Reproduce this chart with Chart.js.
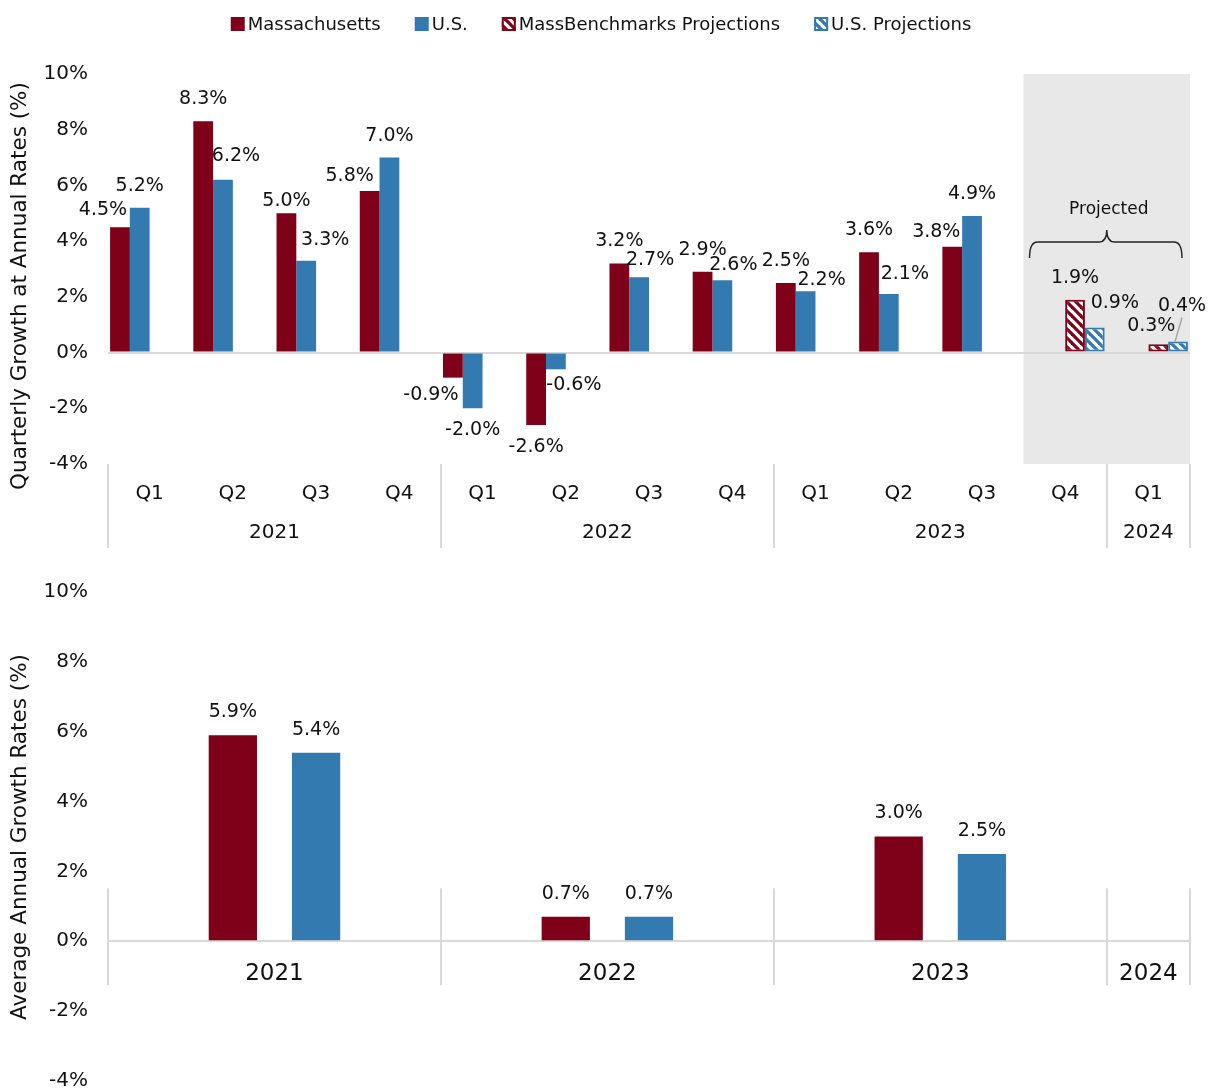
<!DOCTYPE html>
<html>
<head>
<meta charset="utf-8">
<script src="https://cdn.jsdelivr.net/npm/chart.js@4/dist/chart.umd.min.js"></script>
<style>
  body { margin: 0; background: #fff; }
  #wrap { position: relative; width: 1210px; height: 1091px; overflow: hidden; }
  canvas { position: absolute; left: 0; display: block; }
</style>
</head>
<body>
<div id="wrap">
  <canvas id="quarterChart" width="1210" height="560" style="top:0"></canvas>
  <canvas id="annualChart" width="1210" height="553" style="top:560px"></canvas>
</div>
<script>
// 資料
const quarters = ['Q1', 'Q2', 'Q3', 'Q4', 'Q1', 'Q2', 'Q3', 'Q4', 'Q1', 'Q2', 'Q3', 'Q4', 'Q1'];
const years = ['2021', '2022', '2023', '2024'];
const quartersPerYear = [4, 4, 4, 1];
const projectedFrom = 11;

const maQuarterly = [4.5, 8.3, 5.0, 5.8, -0.9, -2.6, 3.2, 2.9, 2.5, 3.6, 3.8, null, null];
const usQuarterly = [5.2, 6.2, 3.3, 7.0, -2.0, -0.6, 2.7, 2.6, 2.2, 2.1, 4.9, null, null];
const maProjected = [null, null, null, null, null, null, null, null, null, null, null, 1.9, 0.3];
const usProjected = [null, null, null, null, null, null, null, null, null, null, null, 0.9, 0.4];

const maAnnual = [5.9, 0.7, 3.0, null];
const usAnnual = [5.4, 0.7, 2.5, null];

const yTicksMin = -4;
const yTicksMax = 10;

// 樣式
const MA_COLOR = '#7F0019';
const US_COLOR = '#337AB0';
const TEXT = '#111111';
const LINE = '#d9d9d9';
const FONT = "'DejaVu Sans', sans-serif";

// 標籤微調 [dx, dy, 引線]
const maNudge = { 0: [-17, 5], 2: [0, 10], 3: [-20, 7], 4: [-22, -5], 10: [-16, 7] };
const usNudge = { 1: [13, -2], 2: [19, 1], 5: [18, -6], 6: [11, 5], 7: [11, 7], 8: [16, 11], 9: [16, 2] };
const maProjNudge = { 12: [-7, 4] };
const usProjNudge = { 11: [20, -2], 12: [4, -13, true] };

// 年度分組邊界
const groupBounds = [0];
quartersPerYear.forEach(n => groupBounds.push(groupBounds[groupBounds.length - 1] + n));

// 年度平均資料放在 Q2 / Q3 位置
const maAnnualSlots = quarters.map(() => null);
const usAnnualSlots = quarters.map(() => null);
years.forEach((y, i) => {
    if (maAnnual[i] !== null) maAnnualSlots[groupBounds[i] + 1] = maAnnual[i];
    if (usAnnual[i] !== null) usAnnualSlots[groupBounds[i] + 2] = usAnnual[i];
});

function makeHatch(ctx, color) {
    const size = 9;
    const c = document.createElement('canvas');
    c.width = size;
    c.height = size;
    const g = c.getContext('2d');
    g.fillStyle = '#fff';
    g.fillRect(0, 0, size, size);
    g.strokeStyle = color;
    g.lineWidth = 3.2;
    for (let k = -1; k <= 1; k++) {
        g.beginPath();
        g.moveTo(k * size - 1, -1);
        g.lineTo(k * size + size + 1, size + 1);
        g.stroke();
    }
    return ctx.createPattern(c, 'repeat');
}

function boundaryX(chart, idx) {
    const x = chart.scales.x;
    const w = x.width / quarters.length;
    return x.left + idx * w;
}

// 數值標籤
function labelPlugin(font, gap) {
    return {
        id: 'valueLabels',
        afterDatasetsDraw(chart) {
            const ctx = chart.ctx;
            ctx.save();
            ctx.font = font;
            ctx.fillStyle = TEXT;
            ctx.textAlign = 'center';
            ctx.textBaseline = 'middle';
            chart.data.datasets.forEach((ds, di) => {
                const meta = chart.getDatasetMeta(di);
                const nudges = ds.labelNudge || {};
                meta.data.forEach((bar, i) => {
                    const v = ds.data[i];
                    if (v === null || v === undefined) return;
                    const n = nudges[i] || [0, 0];
                    const x = bar.x + n[0];
                    const y = (v >= 0 ? bar.y - gap : bar.y + gap) + n[1];
                    ctx.fillText(v.toFixed(1) + '%', x, y);
                    if (n[2]) {
                        ctx.strokeStyle = '#a6a6a6';
                        ctx.lineWidth = 1.5;
                        ctx.beginPath();
                        ctx.moveTo(x, y + 11);
                        ctx.lineTo(bar.x - 3, bar.y);
                        ctx.stroke();
                    }
                });
            });
            ctx.restore();
        }
    };
}

function drawYTitle(ctx, text, x, y) {
    ctx.save();
    ctx.translate(x, y);
    ctx.rotate(-Math.PI / 2);
    ctx.font = '21.5px ' + FONT;
    ctx.fillStyle = TEXT;
    ctx.textAlign = 'center';
    ctx.textBaseline = 'middle';
    ctx.fillText(text, 0, 0);
    ctx.restore();
}

// 上圖：季度成長
const qCtx = document.getElementById('quarterChart').getContext('2d');
const maHatch = makeHatch(qCtx, MA_COLOR);
const usHatch = makeHatch(qCtx, US_COLOR);

const legendItems = [
    { text: 'Massachusetts', fill: MA_COLOR, stroke: null },
    { text: 'U.S.', fill: US_COLOR, stroke: null },
    { text: 'MassBenchmarks Projections', fill: maHatch, stroke: MA_COLOR },
    { text: 'U.S. Projections', fill: usHatch, stroke: US_COLOR }
];

const quarterDecor = {
    id: 'quarterDecor',
    beforeDraw(chart) {
        const ctx = chart.ctx;
        const area = chart.chartArea;
        const x0 = boundaryX(chart, projectedFrom);
        ctx.save();
        ctx.fillStyle = '#e8e8e8';
        ctx.fillRect(x0, area.top, area.right - x0, area.bottom - area.top);
        ctx.restore();
    },
    afterDraw(chart) {
        const ctx = chart.ctx;
        const area = chart.chartArea;
        ctx.save();

        // 年度分隔線與年份
        ctx.strokeStyle = LINE;
        ctx.lineWidth = 2;
        groupBounds.forEach(b => {
            const x = Math.round(boundaryX(chart, b));
            ctx.beginPath();
            ctx.moveTo(x, area.bottom);
            ctx.lineTo(x, area.bottom + 84);
            ctx.stroke();
        });
        ctx.font = '20px ' + FONT;
        ctx.fillStyle = TEXT;
        ctx.textAlign = 'center';
        ctx.textBaseline = 'middle';
        years.forEach((y, i) => {
            const cx = (boundaryX(chart, groupBounds[i]) + boundaryX(chart, groupBounds[i + 1])) / 2;
            ctx.fillText(y, cx, area.bottom + 69);
        });

        // 預測括號
        const bx1 = boundaryX(chart, projectedFrom) + 6;
        const bx2 = area.right - 8;
        const bxm = boundaryX(chart, projectedFrom + 1);
        const by = area.top + 168;
        ctx.strokeStyle = '#222';
        ctx.lineWidth = 1.4;
        ctx.beginPath();
        ctx.moveTo(bx1, by + 16);
        ctx.quadraticCurveTo(bx1, by, bx1 + 8, by);
        ctx.lineTo(bxm - 8, by);
        ctx.quadraticCurveTo(bxm, by, bxm, by - 12);
        ctx.quadraticCurveTo(bxm, by, bxm + 8, by);
        ctx.lineTo(bx2 - 8, by);
        ctx.quadraticCurveTo(bx2, by, bx2, by + 16);
        ctx.stroke();
        ctx.font = '17px ' + FONT;
        ctx.fillText('Projected', bxm + 2, area.top + 136);

        // 圖例
        ctx.font = '18px ' + FONT;
        ctx.textAlign = 'left';
        const box = 14, boxGap = 3, itemGap = 34;
        let total = 0;
        legendItems.forEach((it, i) => {
            total += box + boxGap + ctx.measureText(it.text).width + (i < legendItems.length - 1 ? itemGap : 0);
        });
        let lx = 601 - total / 2;
        const ly = 24;
        legendItems.forEach(it => {
            ctx.fillStyle = it.fill;
            ctx.fillRect(lx, ly - box / 2, box, box);
            if (it.stroke) {
                ctx.strokeStyle = it.stroke;
                ctx.lineWidth = 2;
                ctx.strokeRect(lx + 1, ly - box / 2 + 1, box - 2, box - 2);
            }
            ctx.fillStyle = TEXT;
            ctx.fillText(it.text, lx + box + boxGap, ly + 1);
            lx += box + boxGap + ctx.measureText(it.text).width + itemGap;
        });

        ctx.restore();
        drawYTitle(ctx, 'Quarterly Growth at Annual Rates (%)', 20, 286);
    }
};

function makeYAxis() {
    return {
        min: yTicksMin,
        max: yTicksMax,
        border: { display: false },
        grid: {
            drawTicks: false,
            lineWidth: 2,
            color: c => (c.tick && c.tick.value === 0 ? LINE : 'rgba(0,0,0,0)')
        },
        ticks: {
            stepSize: 2,
            color: TEXT,
            font: { family: FONT, size: 20 },
            padding: 20,
            callback: v => v + '%'
        },
        afterFit: s => { s.width = 108; }
    };
}

new Chart(qCtx, {
    type: 'bar',
    data: {
        labels: quarters,
        datasets: [
            { label: 'Massachusetts', data: maQuarterly, backgroundColor: MA_COLOR, borderWidth: 0, labelNudge: maNudge },
            { label: 'U.S.', data: usQuarterly, backgroundColor: US_COLOR, borderWidth: 0, labelNudge: usNudge },
            { label: 'MassBenchmarks Projections', data: maProjected, backgroundColor: maHatch, borderColor: MA_COLOR, borderWidth: 2, borderSkipped: false, labelNudge: maProjNudge },
            { label: 'U.S. Projections', data: usProjected, backgroundColor: usHatch, borderColor: US_COLOR, borderWidth: 2, borderSkipped: false, labelNudge: usProjNudge }
        ]
    },
    options: {
        responsive: false,
        animation: false,
        categoryPercentage: 0.95,
        barPercentage: 1,
        layout: { padding: { top: 74, right: 20, left: 0, bottom: 0 } },
        plugins: {
            legend: { display: false },
            tooltip: { enabled: false }
        },
        scales: {
            x: {
                grid: { display: false },
                border: { display: false },
                ticks: { color: TEXT, font: { family: FONT, size: 20 }, padding: 10 },
                afterFit: s => { s.height = 96; }
            },
            y: makeYAxis()
        }
    },
    plugins: [quarterDecor, labelPlugin('19px ' + FONT, 22)]
});

// 下圖：年度平均
const aCtx = document.getElementById('annualChart').getContext('2d');

const annualDecor = {
    id: 'annualDecor',
    afterDraw(chart) {
        const ctx = chart.ctx;
        const zeroY = chart.scales.y.getPixelForValue(0);
        ctx.save();
        ctx.strokeStyle = LINE;
        ctx.lineWidth = 2;
        groupBounds.forEach(b => {
            const x = Math.round(boundaryX(chart, b));
            ctx.beginPath();
            ctx.moveTo(x, zeroY - 53);
            ctx.lineTo(x, zeroY + 44);
            ctx.stroke();
        });
        ctx.font = '23px ' + FONT;
        ctx.fillStyle = TEXT;
        ctx.textAlign = 'center';
        ctx.textBaseline = 'middle';
        years.forEach((y, i) => {
            const cx = (boundaryX(chart, groupBounds[i]) + boundaryX(chart, groupBounds[i + 1])) / 2;
            ctx.fillText(y, cx, zeroY + 33);
        });
        ctx.restore();
        drawYTitle(ctx, 'Average Annual Growth Rates (%)', 20, 277);
    }
};

new Chart(aCtx, {
    type: 'bar',
    data: {
        labels: quarters,
        datasets: [
            { label: 'Massachusetts', data: maAnnualSlots, backgroundColor: MA_COLOR, borderWidth: 0 },
            { label: 'U.S.', data: usAnnualSlots, backgroundColor: US_COLOR, borderWidth: 0 }
        ]
    },
    options: {
        responsive: false,
        animation: false,
        grouped: false,
        categoryPercentage: 1,
        barPercentage: 0.58,
        layout: { padding: { top: 30, right: 20, left: 0, bottom: 0 } },
        plugins: {
            legend: { display: false },
            tooltip: { enabled: false }
        },
        scales: {
            x: {
                grid: { display: false },
                border: { display: false },
                ticks: { display: false },
                afterFit: s => { s.height = 10; }
            },
            y: makeYAxis()
        }
    },
    plugins: [annualDecor, labelPlugin('19px ' + FONT, 23)]
});
</script>
</body>
</html>
